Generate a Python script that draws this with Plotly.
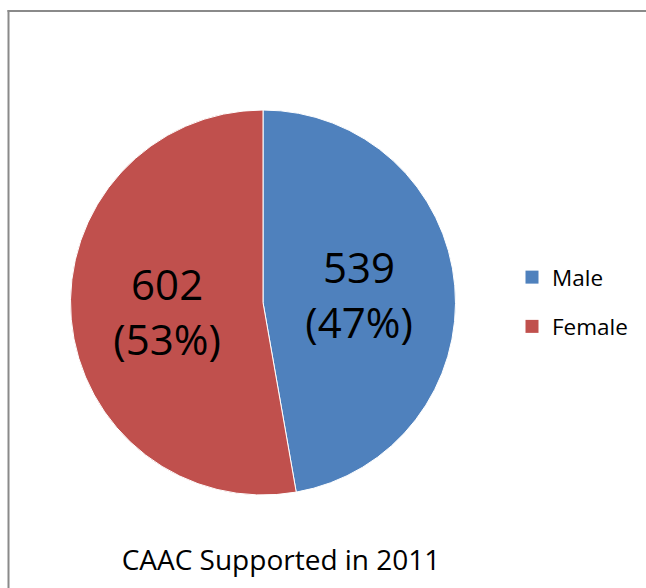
import plotly.graph_objects as go

labels = ["Male", "Female"]
values = [539, 602]
colors = ["#4F81BD", "#C0504D"]
title_text = "CAAC Supported in 2011"

W, H = 646, 588
FONT = "Open Sans"

fig = go.Figure()
fig.add_trace(go.Pie(
    labels=labels,
    values=values,
    sort=False,
    direction="clockwise",
    rotation=0,
    marker=dict(colors=colors, line=dict(color="#FFFFFF", width=1)),
    texttemplate="%{value}<br>(%{percent:.0%})",
    textposition="inside",
    insidetextorientation="horizontal",
    textfont=dict(family=FONT, size=42, color="#000000"),
    domain=dict(x=[70 / W, 456 / W], y=[1 - 495 / H, 1 - 110 / H]),
    hoverinfo="label+value+percent",
    showlegend=False,
))

# legend entries (one group per slice so the vertical gap can be set)
for lab, col in zip(labels, colors):
    fig.add_trace(go.Scatter(
        x=[None], y=[None], mode="markers", name=lab,
        legendgroup=lab,
        marker=dict(symbol="square", size=13, color=col),
        showlegend=True, hoverinfo="skip",
    ))

border = dict(color="#8A8A8A", width=2)
fig.update_layout(
    width=W, height=H,
    margin=dict(l=0, r=0, t=0, b=0),
    paper_bgcolor="#FFFFFF",
    plot_bgcolor="rgba(0,0,0,0)",
    font=dict(family=FONT, color="#000000"),
    xaxis=dict(visible=False),
    yaxis=dict(visible=False),
    showlegend=True,
    legend=dict(
        x=512 / W, xanchor="left",
        y=1 - 302 / H, yanchor="middle",
        traceorder="grouped",
        tracegroupgap=17,
        font=dict(family=FONT, size=22.5, color="#000000"),
        bgcolor="rgba(0,0,0,0)",
    ),
    title=dict(
        text=title_text,
        x=281 / W, xanchor="center",
        y=1 - 560 / H, yanchor="middle",
        xref="paper", yref="paper",
        font=dict(family=FONT, size=28, color="#000000"),
    ),
    shapes=[
        dict(type="line", xref="paper", yref="paper",
             x0=7.5 / W, x1=1.2, y0=1 - 11 / H, y1=1 - 11 / H, line=border),
        dict(type="line", xref="paper", yref="paper",
             x0=8.5 / W, x1=8.5 / W, y0=-0.2, y1=1 - 10 / H, line=border),
    ],
)

fig.write_html(
    "out.html",
    config={"displayModeBar": False},
    post_script="document.body.style.margin='0';document.body.style.padding='0';document.body.style.overflow='hidden';",
)
